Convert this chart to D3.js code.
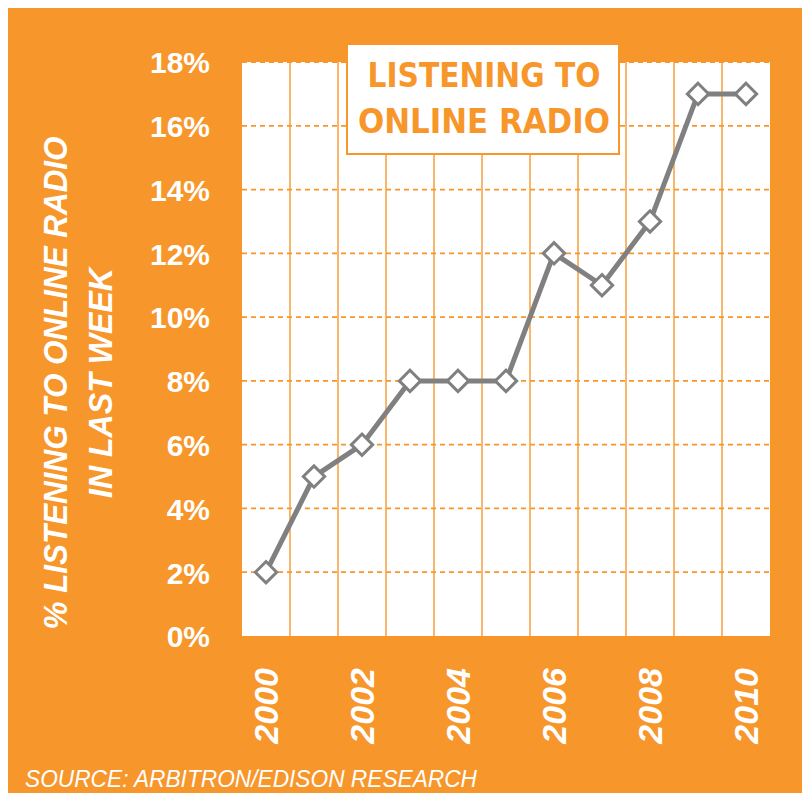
<!DOCTYPE html>
<html>
<head>
<meta charset="utf-8">
<script src="https://cdn.jsdelivr.net/npm/d3@7"></script>
<style>
  body { margin: 0; background: #fff; }
  svg { display: block; }
</style>
</head>
<body>
<div id="chart"></div>
<script>
// data
var years = ["2000", "2001", "2002", "2003", "2004", "2005", "2006", "2007", "2008", "2009", "2010"];
var shares = [2, 5, 6, 8, 8, 8, 12, 11, 13, 17, 17];
var yTicks = [0, 2, 4, 6, 8, 10, 12, 14, 16, 18];
var xLabels = ["2000", "2002", "2004", "2006", "2008", "2010"];
var titleLines = ["LISTENING TO", "ONLINE RADIO"];
var axisTitleLines = ["% LISTENING TO ONLINE RADIO", "IN LAST WEEK"];
var sourceText = "SOURCE: ARBITRON/EDISON RESEARCH";

var orange = "#F7962B";
var lightOrange = "#FAB66C";
var gray = "#808080";

var W = 802, H = 793;
var margin = { top: 62, right: 32, bottom: 157, left: 242 },
  width = W - margin.left - margin.right,
  height = H - margin.top - margin.bottom;

var svg = d3.select("#chart")
  .append("svg")
  .attr("width", W)
  .attr("height", H);

// orange backdrop
svg.append("rect")
  .attr("x", 8).attr("y", 8)
  .attr("width", W - 8).attr("height", H - 8)
  .style("fill", orange);

var g = svg.append("g")
  .attr("transform", "translate(" + margin.left + "," + margin.top + ")");

var x = d3.scaleBand()
  .domain(years)
  .range([0, width]);

var y = d3.scaleLinear()
  .domain([0, 18])
  .range([height, 0]);

// white plot area
g.append("rect")
  .attr("width", width)
  .attr("height", height)
  .style("fill", "#fff");

// vertical grid lines between years
g.selectAll(".vgrid")
  .data(years.slice(1))
  .enter()
  .append("line")
  .attr("class", "vgrid")
  .attr("x1", function (d) { return x(d); })
  .attr("x2", function (d) { return x(d); })
  .attr("y1", 0)
  .attr("y2", height)
  .style("stroke", lightOrange)
  .style("stroke-width", 2);

// dashed horizontal grid lines
g.selectAll(".hgrid")
  .data(yTicks.slice(1))
  .enter()
  .append("line")
  .attr("class", "hgrid")
  .attr("x1", 0)
  .attr("x2", width)
  .attr("y1", function (d) { return y(d); })
  .attr("y2", function (d) { return y(d); })
  .style("stroke", orange)
  .style("stroke-width", 1.8)
  .style("stroke-dasharray", "5,4");

// y axis tick labels
var yAxis = g.append("g")
  .call(d3.axisLeft(y).tickValues(yTicks).tickFormat(function (d) { return d + "%"; }).tickSize(0).tickPadding(32));
yAxis.select(".domain").remove();
yAxis.selectAll("text")
  .style("fill", "#fff")
  .style("font-family", "'Liberation Sans', Arial, sans-serif")
  .style("font-weight", "bold")
  .style("font-size", "30px")
  .attr("dy", "0.36em");

// x axis labels, rotated
var xAxis = g.append("g")
  .attr("transform", "translate(0," + height + ")")
  .call(d3.axisBottom(x).tickValues(xLabels).tickSize(0));
xAxis.select(".domain").remove();
xAxis.selectAll("text")
  .attr("transform", "rotate(-90)")
  .attr("x", -32)
  .attr("y", 0)
  .attr("dy", "0.36em")
  .style("text-anchor", "end")
  .style("fill", "#fff")
  .style("font-family", "'Liberation Sans', Arial, sans-serif")
  .style("font-style", "italic")
  .style("font-weight", "bold")
  .style("font-size", "34px");

// the line
var line = d3.line()
  .x(function (d, i) { return x(years[i]) + x.bandwidth() / 2; })
  .y(function (d) { return y(d); });

g.append("path")
  .datum(shares)
  .attr("d", line)
  .style("fill", "none")
  .style("stroke", gray)
  .style("stroke-width", 5);

// diamond markers
g.selectAll(".marker")
  .data(shares)
  .enter()
  .append("path")
  .attr("class", "marker")
  .attr("d", d3.symbol().type(d3.symbolDiamond2).size(290))
  .attr("transform", function (d, i) {
    return "translate(" + (x(years[i]) + x.bandwidth() / 2) + "," + y(d) + ")";
  })
  .style("fill", "#fff")
  .style("stroke", gray)
  .style("stroke-width", 3);

// title box
svg.append("rect")
  .attr("x", 347).attr("y", 44)
  .attr("width", 272).attr("height", 110)
  .style("fill", "#fff")
  .style("stroke", orange)
  .style("stroke-width", 2);

var titleWidths = [233, 252];
svg.selectAll(".title")
  .data(titleLines)
  .enter()
  .append("text")
  .attr("class", "title")
  .attr("x", 484)
  .attr("y", function (d, i) { return 87 + i * 46; })
  .attr("textLength", function (d, i) { return titleWidths[i]; })
  .attr("lengthAdjust", "spacingAndGlyphs")
  .style("text-anchor", "middle")
  .style("fill", orange)
  .style("font-family", "'DejaVu Sans', sans-serif")
  .style("font-weight", "bold")
  .style("font-size", "33px")
  .text(function (d) { return d; });

// rotated y axis title
var axisTitleWidths = [493, 230];
svg.selectAll(".ytitle")
  .data(axisTitleLines)
  .enter()
  .append("text")
  .attr("class", "ytitle")
  .attr("transform", function (d, i) { return "translate(" + (67 + i * 45) + ",383) rotate(-90)"; })
  .attr("textLength", function (d, i) { return axisTitleWidths[i]; })
  .attr("lengthAdjust", "spacingAndGlyphs")
  .style("text-anchor", "middle")
  .style("fill", "#fff")
  .style("font-family", "'Liberation Sans', Arial, sans-serif")
  .style("font-style", "italic")
  .style("font-weight", "bold")
  .style("font-size", "34px")
  .text(function (d) { return d; });

// source note
svg.append("text")
  .attr("x", 25)
  .attr("y", 787)
  .attr("textLength", 452)
  .attr("lengthAdjust", "spacingAndGlyphs")
  .style("fill", "#fff")
  .style("font-family", "'Liberation Sans', Arial, sans-serif")
  .style("font-style", "italic")
  .style("font-size", "23px")
  .text(sourceText);
</script>
</body>
</html>
